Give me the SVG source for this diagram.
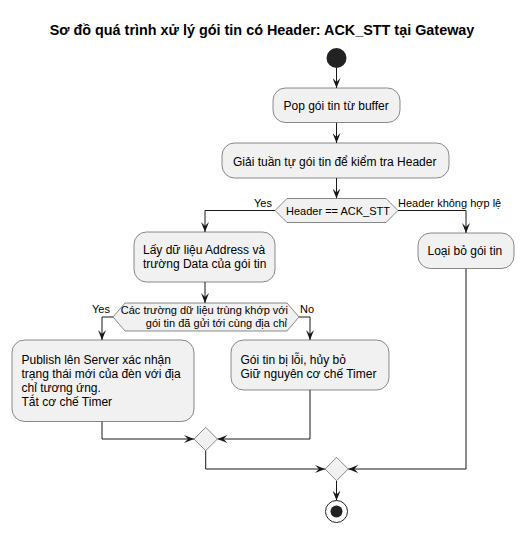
<svg xmlns="http://www.w3.org/2000/svg" width="525" height="533" viewBox="0 0 525 533">
<defs>
<style>
.box{fill:#F1F1F1;stroke:#181818;stroke-width:0.5}
.t{font-family:"Liberation Sans",Arial,sans-serif;font-size:12px;fill:#000}
.l{font-family:"Liberation Sans",Arial,sans-serif;font-size:11px;fill:#000}
.c{fill:none;stroke:#181818;stroke-width:1}
</style>
<marker id="ah" markerWidth="10" markerHeight="8" refX="10" refY="4" orient="auto" markerUnits="userSpaceOnUse">
<path d="M0,0 L10,4 L0,8 L4,4 Z" fill="#181818"/>
</marker>
</defs>
<rect width="525" height="533" fill="#FFFFFF"/>
<text x="262" y="35" text-anchor="middle" font-family="Liberation Sans,Arial,sans-serif" font-size="14.4" font-weight="bold">Sơ đồ quá trình xử lý gói tin có Header: ACK_STT tại Gateway</text>

<g id="connectors">
<path class="c" d="M336.5,68 L336.5,88" marker-end="url(#ah)"/>
<path class="c" d="M336.5,122.5 L336.5,143" marker-end="url(#ah)"/>
<path class="c" d="M336.5,178 L336.5,198.5" marker-end="url(#ah)"/>
<path class="c" d="M275,210.5 L205,210.5 L205,232" marker-end="url(#ah)"/>
<path class="c" d="M398,210.5 L466,210.5 L466,233" marker-end="url(#ah)"/>
<path class="c" d="M205,282 L205,303" marker-end="url(#ah)"/>
<path class="c" d="M113,317 L102,317 L102,340" marker-end="url(#ah)"/>
<path class="c" d="M299,317 L310,317 L310,340" marker-end="url(#ah)"/>
<path class="c" d="M102,421.5 L102,439 L194,439" marker-end="url(#ah)"/>
<path class="c" d="M310,390 L310,439 L217.5,439" marker-end="url(#ah)"/>
<path class="c" d="M205.7,450.7 L205.7,469 L325,469" marker-end="url(#ah)"/>
<path class="c" d="M466,268.5 L466,469 L348.3,469" marker-end="url(#ah)"/>
<path class="c" d="M336.5,481 L336.5,500.5" marker-end="url(#ah)"/>
<text class="l" x="254" y="207">Yes</text>
<text class="l" x="398" y="207">Header không hợp lệ</text>
<text class="l" x="92" y="313">Yes</text>
<text class="l" x="300" y="313">No</text>
</g>

<g id="start"><circle cx="336.5" cy="58" r="10" fill="#222222"/></g>

<g id="pop">
<rect class="box" x="273" y="88" width="127" height="34.5" rx="12.5"/>
<text class="t" x="283.5" y="110">Pop gói tin từ buffer</text>
</g>

<g id="giai">
<rect class="box" x="222" y="143" width="227" height="35" rx="12.5"/>
<text class="t" x="233" y="165.5">Giải tuần tự gói tin để kiểm tra Header</text>
</g>

<g id="check-header">
<polygon class="box" points="275,210.5 287,198.5 386,198.5 398,210.5 386,222.5 287,222.5"/>
<text class="l" x="286" y="214.5">Header == ACK_STT</text>
</g>

<g id="lay">
<rect class="box" x="134" y="232" width="141" height="50" rx="12.5"/>
<text class="t" x="143" y="254">Lấy dữ liệu Address và</text>
<text class="t" x="143" y="268">trường Data của gói tin</text>
</g>

<g id="loai">
<rect class="box" x="418" y="233" width="96" height="35.5" rx="12.5"/>
<text class="t" x="427.5" y="255">Loại bỏ gói tin</text>
</g>

<g id="check-fields">
<polygon class="box" points="113,317 125,303 287,303 299,317 287,331 125,331"/>
<text class="l" x="288" y="313.5" text-anchor="end">Các trường dữ liệu trùng khớp với</text>
<text class="l" x="287" y="326.5" text-anchor="end">gói tin đã gửi tới cùng địa chỉ</text>
</g>

<g id="publish">
<rect class="box" x="12" y="340" width="182" height="81.5" rx="12.5"/>
<text class="t" x="21.5" y="363.5">Publish lên Server xác nhận</text>
<text class="t" x="21.5" y="377.5">trạng thái mới của đèn với địa</text>
<text class="t" x="21.5" y="391.5">chỉ tương ứng.</text>
<text class="t" x="21.5" y="405.5">Tắt cơ chế Timer</text>
</g>

<g id="loi">
<rect class="box" x="231" y="340" width="158" height="50" rx="12.5"/>
<text class="t" x="240.5" y="363.5">Gói tin bị lỗi, hủy bỏ</text>
<text class="t" x="240.5" y="377.5">Giữ nguyên cơ chế Timer</text>
</g>

<g id="merge1"><polygon class="box" points="194,439 205.7,427.3 217.4,439 205.7,450.7"/></g>
<g id="merge2"><polygon class="box" points="325,469 336.5,457.3 348.2,469 336.5,480.7"/></g>

<g id="end">
<circle cx="336.5" cy="511.5" r="11" fill="none" stroke="#222222" stroke-width="1"/>
<circle cx="336.5" cy="511.5" r="6" fill="#222222"/>
</g>
</svg>
